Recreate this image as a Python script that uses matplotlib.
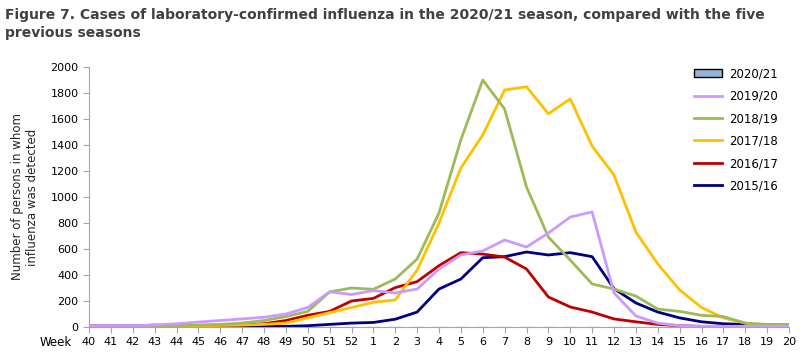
import matplotlib
matplotlib.use("Agg")
from matplotlib import pyplot as plt
from matplotlib.patches import Patch
from matplotlib.lines import Line2D
import numpy as np

plt.rcParams['font.family'] = ['DejaVu Sans']

weeks = [str(w) for w in range(40, 53)] + [str(w) for w in range(1, 21)]

# season values, week 40 .. week 20
s2020 = [1, 1, 0, 1, 0, 1, 1, 2, 1, 2, 3, 2, 2, 2, 1, 2, 1, 1, 2, 2, 1, 2, 2,
         2, 1, 1, 2, 2, 1, 2, 1, 1, 2]
s2019 = [10, 10, 10, 15, 25, 38, 50, 62, 75, 100, 150, 270, 250, 280, 262, 292,
         446, 554, 585, 669, 615, 723, 846, 885, 262, 85, 30, 10, 5, 5, 5, 5, 5]
s2018 = [8, 8, 8, 10, 12, 15, 20, 30, 50, 80, 120, 270, 300, 290, 369, 523,
         877, 1440, 1900, 1677, 1077, 692, 515, 331, 292, 238, 138, 120, 90,
         80, 30, 20, 20]
s2017 = [5, 5, 5, 8, 10, 10, 12, 15, 20, 30, 70, 110, 150, 190, 208, 438,
         800, 1223, 1477, 1823, 1848, 1640, 1754, 1392, 1169, 731, 485, 285,
         150, 70, 30, 10, 10]
s2016 = [10, 8, 8, 15, 8, 8, 10, 15, 25, 50, 90, 120, 200, 220, 303, 349,
         472, 572, 561, 538, 446, 231, 154, 115, 62, 40, 20, 10, 5, 5, 5, 5, 5]
s2015 = [5, 5, 5, 5, 5, 5, 5, 5, 5, 5, 10, 20, 30, 35, 60, 115, 292, 369, 533,
         541, 577, 554, 572, 541, 295, 185, 115, 70, 40, 25, 20, 20, 10]

series = [
    ("2019/20", s2019, "#CC99FF"),
    ("2018/19", s2018, "#9BBB59"),
    ("2017/18", s2017, "#FFC000"),
    ("2016/17", s2016, "#C00000"),
    ("2015/16", s2015, "#000080"),
]

fig = plt.figure(figsize=(8, 3.61), dpi=100)
ax = fig.add_axes([89 / 800, 1 - 327 / 361, 700 / 800, 260 / 361])

x = np.arange(len(weeks))
ax.bar(x, s2020, width=0.6, color="#95B3D7", edgecolor="black", linewidth=0.8, zorder=1)
for name, vals, col in series[::-1]:
    ax.plot(x, vals, color=col, linewidth=2, zorder=2)

ax.set_xlim(0, len(weeks) - 1)
ax.set_ylim(0, 2000)
ax.set_yticks(range(0, 2001, 200))
ax.set_xticks(x)
ax.set_xticklabels(weeks)
ax.tick_params(axis="both", labelsize=8, length=4, colors="black")
ax.tick_params(axis="both", color="#A6A6A6")
for s in ["top", "right"]:
    ax.spines[s].set_visible(False)
for s in ["left", "bottom"]:
    ax.spines[s].set_color("#A6A6A6")

ax.set_ylabel("Number of persons in whom\ninfluenza was detected", fontsize=8.5, color="#262626")
ax.yaxis.set_label_coords(-0.072, 0.5)
fig.text(40 / 800, 1 - 343 / 361, "Week", fontsize=8.5, va="center", ha="left")

fig.text(5 / 800, 1 - 24 / 361,
         "Figure 7. Cases of laboratory-confirmed influenza in the 2020/21 season, compared with the five\nprevious seasons",
         fontsize=10, fontweight="bold", color="#404040", va="center", ha="left", linespacing=1.35)

handles = [Patch(facecolor="#95B3D7", edgecolor="black", label="2020/21")]
handles += [Line2D([], [], color=c, linewidth=2, label=n) for n, v, c in series]
ax.legend(handles=handles, loc="upper right", bbox_to_anchor=(1.0, 1.04), frameon=False,
          fontsize=8.5, handlelength=2.4, handletextpad=0.6, labelspacing=0.8)

fig.savefig("out.png", dpi=100)
